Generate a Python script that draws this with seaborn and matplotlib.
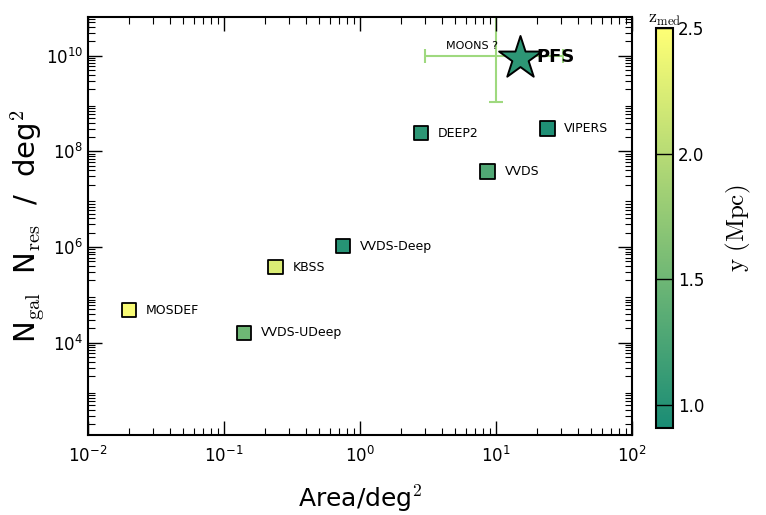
import numpy as np
import pandas as pd
import matplotlib
matplotlib.use("Agg")
import matplotlib.pyplot as plt
import seaborn as sns

# ---- data ----
names = ["MOSDEF", "VVDS-UDeep", "KBSS", "VVDS-Deep", "DEEP2", "VVDS", "VIPERS"]
area = [0.02, 0.14, 0.24, 0.75, 2.8, 8.7, 24.0]
ngal_nres = [4.8e4, 1.6e4, 3.8e5, 1.05e6, 2.4e8, 3.8e7, 3.0e8]
zmed = [2.45, 1.5, 2.25, 1.0, 1.05, 1.3, 0.95]

pfs_area = [15.0]
pfs_n = [9.0e9]
pfs_z = [1.05]

moons_area = [10.0]
moons_n = [1.0e10]
moons_xerr_lo = [7.0]
moons_xerr_hi = [21.0]
moons_yerr_lo = [8.9e9]
moons_yerr_hi = [9.0e10]

zmin, zmax = 0.91, 2.5
cbar_ticks = [1.0, 1.5, 2.0, 2.5]

# ---- style ----
sns.set_style("white")
plt.rcParams["font.family"] = ["DejaVu Sans"]
plt.rcParams["mathtext.fontset"] = "cm"
plt.rcParams["text.color"] = "black"
plt.rcParams["axes.labelcolor"] = "black"
plt.rcParams["xtick.color"] = "black"
plt.rcParams["ytick.color"] = "black"
plt.rcParams["axes.axisbelow"] = False

fig = plt.figure(figsize=(7.66, 5.15), dpi=100)
ax = fig.add_axes([0.1149, 0.1553, 0.7101, 0.8117])
cax = fig.add_axes([0.856, 0.169, 0.023, 0.777])

base = plt.get_cmap("summer")
cols = base(np.linspace(0, 1, 256))[:, :3] * 0.9 + 0.1
cmap = matplotlib.colors.ListedColormap(cols, name="summer_light")
norm = matplotlib.colors.Normalize(vmin=zmin, vmax=zmax)

# MOONS error bars
ax.errorbar(moons_area, moons_n,
            xerr=[moons_xerr_lo, moons_xerr_hi],
            yerr=[moons_yerr_lo, moons_yerr_hi],
            fmt="none", ecolor="#9fd97f", elinewidth=1.5, capsize=5, capthick=1.5,
            zorder=2)
ax.text(moons_area[0] * 1.04, moons_n[0] * 1.6, "MOONS ?", fontsize=8,
        ha="right", va="center", zorder=3)

df = pd.DataFrame({"area": area, "n": ngal_nres, "z": zmed, "name": names})
sns.scatterplot(data=df, x="area", y="n", hue="z", palette=cmap,
                hue_norm=norm, marker="s", s=110, edgecolor="black",
                linewidth=1.3, legend=False, ax=ax, zorder=4)

for nm, a, n in zip(names, area, ngal_nres):
    ax.annotate(nm, (a, n), xytext=(12, 0), textcoords="offset points",
                fontsize=9, ha="left", va="center")

# PFS star
dfp = pd.DataFrame({"area": pfs_area, "n": pfs_n, "z": pfs_z})
sns.scatterplot(data=dfp, x="area", y="n", hue="z", palette=cmap,
                hue_norm=norm, marker="*", s=1050, edgecolor="black",
                linewidth=1.4, legend=False, ax=ax, zorder=5)
ax.annotate("PFS", (pfs_area[0], pfs_n[0]), xytext=(12, 1),
            textcoords="offset points", fontsize=13, fontweight="bold",
            ha="left", va="center", zorder=6)

ax.set_xscale("log")
ax.set_yscale("log")
ax.set_xlim(1e-2, 1e2)
ax.set_ylim(10 ** 2.07, 10 ** 10.81)
ax.set_yticks([1e4, 1e6, 1e8, 1e10])
ax.yaxis.set_minor_locator(matplotlib.ticker.LogLocator(base=10, subs=np.arange(2, 10), numticks=50))
ax.xaxis.set_minor_locator(matplotlib.ticker.LogLocator(base=10, subs=np.arange(2, 10), numticks=50))
ax.yaxis.set_minor_formatter(matplotlib.ticker.NullFormatter())
ax.xaxis.set_minor_formatter(matplotlib.ticker.NullFormatter())
ax.tick_params(which="both", direction="in", top=True, right=True, bottom=True,
               left=True, labelsize=12, colors="black")
ax.tick_params(which="major", length=10, width=1.0)
ax.tick_params(which="minor", length=5, width=0.8)
ax.tick_params(axis="x", pad=8)
for sp in ax.spines.values():
    sp.set_linewidth(1.5)
    sp.set_color("black")

ax.set_xlabel(r"Area/deg$^2$", fontsize=18, labelpad=12)
ax.set_ylabel(r"N$_{\rm gal}$  N$_{\rm res}$  /  deg$^2$", fontsize=21, labelpad=0)

# colorbar
sm = matplotlib.cm.ScalarMappable(norm=norm, cmap=cmap)
cb = fig.colorbar(sm, cax=cax, ticks=cbar_ticks)
cb.ax.set_axisbelow(False)
cb.ax.tick_params(direction="in", length=12, width=1, labelsize=12, right=True,
                  colors="black")
cb.ax.set_yticklabels(["1.0", "1.5", "2.0", "2.5"])
cb.outline.set_linewidth(1.5)
cb.outline.set_edgecolor("black")
cb.ax.set_title(r"$\mathrm{z_{med}}$", fontsize=13, pad=2, loc="center")
cb.set_label(r"$\mathrm{y\ (Mpc)}$", fontsize=18, labelpad=14)

fig.savefig("out.png", dpi=100)
